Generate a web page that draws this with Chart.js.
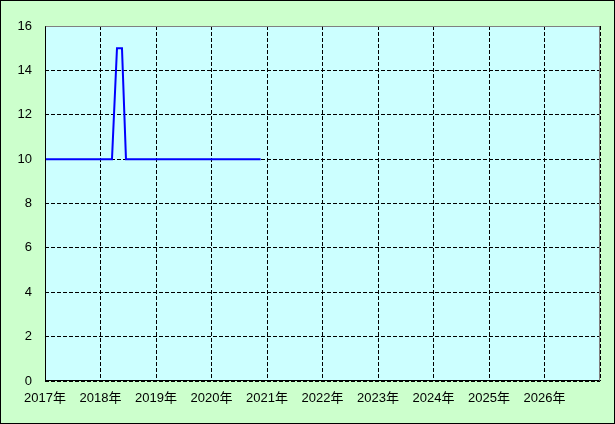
<!DOCTYPE html>
<html>
<head>
<meta charset="utf-8">
<script src="https://cdn.jsdelivr.net/npm/chart.js@4/dist/chart.umd.min.js"></script>
<style>
    body { margin: 0; background: #ccffcc; }
    canvas { display: block; }
</style>
</head>
<body>
<canvas id="chart" width="615" height="424"></canvas>
<script>
// Series (x in decimal years)
const seriesYears = [2017.0, 2018.207, 2018.297, 2018.387, 2018.459, 2020.886]
const seriesValues = [10, 10, 15, 15, 10, 10]

const yearMin = 2017
const yearMax = 2027
const yTicks = [0, 2, 4, 6, 8, 10, 12, 14, 16]

function frameBackgroundPlugin() {
    return {
        id: "frameBackground",
        beforeDraw: (chart) => {
            const { ctx, canvas, chartArea } = chart

            ctx.save()
            ctx.fillStyle = "#ccffcc"
            ctx.fillRect(0, 0, canvas.width, canvas.height)
            ctx.fillStyle = "#ccffff"
            ctx.fillRect(chartArea.left, chartArea.top, chartArea.right - chartArea.left, chartArea.bottom - chartArea.top)
            ctx.restore()
        },
        afterDraw: (chart) => {
            const { ctx, canvas, chartArea } = chart
            const l = Math.round(chartArea.left) + 0.5
            const r = Math.round(chartArea.right) - 0.5
            const t = Math.round(chartArea.top) + 0.5
            const b = Math.round(chartArea.bottom) - 0.5

            ctx.save()
            ctx.lineWidth = 1
            // top + right edges grey
            ctx.strokeStyle = "#808080"
            ctx.beginPath()
            ctx.moveTo(l, t)
            ctx.lineTo(r, t)
            ctx.lineTo(r, b)
            ctx.stroke()
            // left + bottom edges black
            ctx.strokeStyle = "#000000"
            ctx.beginPath()
            ctx.moveTo(l, t)
            ctx.lineTo(l, b)
            ctx.lineTo(r, b)
            ctx.stroke()
            // outer frame
            ctx.strokeRect(0.5, 0.5, canvas.width - 1, canvas.height - 1)
            ctx.restore()
        }
    }
}

const points = seriesYears.map((x, i) => ({ x: x, y: seriesValues[i] }))
const tickFont = { family: "'Liberation Sans', 'Noto Sans CJK JP', sans-serif", size: 13 }

new Chart(document.getElementById("chart").getContext("2d"), {
    type: "line",
    data: {
        datasets: [{
            data: points,
            borderColor: "#0000ff",
            borderWidth: 2,
            pointRadius: 0,
            tension: 0,
            fill: false
        }]
    },
    options: {
        responsive: false,
        animation: false,
        layout: { padding: { top: 26, right: 15, left: 0, bottom: 0 } },
        plugins: {
            legend: { display: false },
            tooltip: { enabled: false }
        },
        scales: {
            x: {
                type: "linear",
                min: yearMin,
                max: yearMax,
                afterFit: (scale) => { scale.height = 43 },
                afterBuildTicks: (scale) => {
                    const ticks = []
                    for (let y = yearMin; y <= yearMax; y++) ticks.push({ value: y })
                    scale.ticks = ticks
                },
                ticks: {
                    color: "#000000",
                    font: tickFont,
                    padding: 10,
                    maxRotation: 0,
                    autoSkip: false,
                    callback: (v) => v === yearMax ? "" : v + "年"
                },
                grid: { color: "#000000", drawTicks: false, lineWidth: 1 },
                border: { display: false, dash: [4, 2] }
            },
            y: {
                min: yTicks[0],
                max: yTicks[yTicks.length - 1],
                afterFit: (scale) => { scale.width = 45 },
                afterBuildTicks: (scale) => {
                    scale.ticks = yTicks.map(v => ({ value: v }))
                },
                ticks: {
                    color: "#000000",
                    font: tickFont,
                    padding: 13
                },
                grid: { color: "#000000", drawTicks: false, lineWidth: 1 },
                border: { display: false, dash: [4, 2] }
            }
        }
    },
    plugins: [frameBackgroundPlugin()]
})
</script>
</body>
</html>
